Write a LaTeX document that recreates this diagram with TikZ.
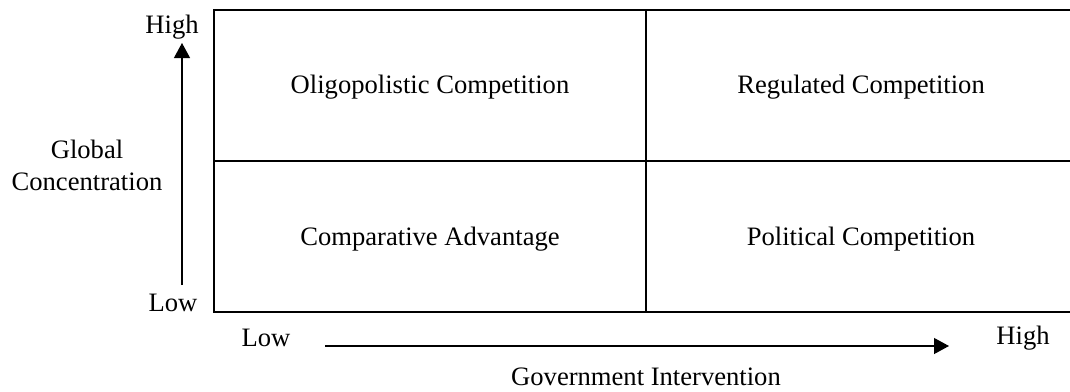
\documentclass[tikz,border=0pt]{standalone}
\usepackage{fontspec}
\setmainfont{Liberation Serif}
\usetikzlibrary{arrows.meta}

\begin{document}
\begin{tikzpicture}[x=0.5pt,y=-0.5pt]
        \tikzset{every node/.style={font=\fontsize{13.3}{16}\selectfont, inner sep=0pt},
                grid line/.style={line width=1pt},
                axis arrow/.style={line width=0.6pt, -{Triangle[width=8pt,length=7.5pt]}}}
        \useasboundingbox (0,0) rectangle (1070,391);
        % quadrant frame
        \draw[grid line] (214,10) rectangle (1076,312);
        \draw[grid line] (646,10) -- (646,312);
        \draw[grid line] (214,161) -- (1076,161);
        % quadrant labels
        \node (oligo) at (430,87) {Oligopolistic Competition};
        \node (regul) at (861,87) {Regulated Competition};
        \node (compar) at (430,239) {Comparative Advantage};
        \node (polit) at (861,239) {Political Competition};
        % vertical axis
        \node (yhigh) at (172,27) {High};
        \node (ylow) at (173,303) {Low};
        \node[align=center] (ylabel) at (87,165) {Global\\Concentration};
        \coordinate (ystart) at (182,285);
        \coordinate (yend) at (182,43);
        \draw[axis arrow] (ystart) -- (yend);
        % horizontal axis
        \node (xlow) at (266,338) {Low};
        \node (xhigh) at (1023,338) {High};
        \node (xlabel) at (646,377) {Government Intervention};
        \coordinate (xstart) at (325,346);
        \coordinate (xend) at (949,346);
        \draw[axis arrow] (xstart) -- (xend);
\end{tikzpicture}
\end{document}
